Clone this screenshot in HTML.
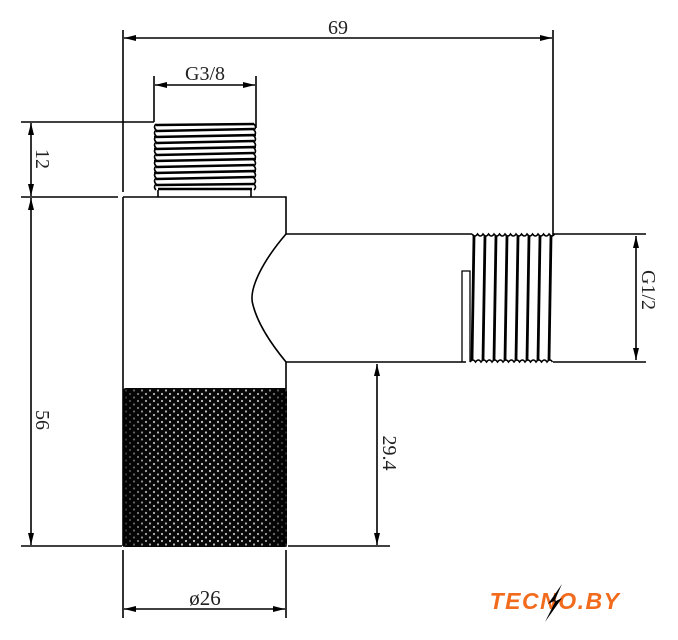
<!DOCTYPE html>
<html><head><meta charset="utf-8"><style>
html,body{margin:0;padding:0;background:#fff;width:678px;height:640px;overflow:hidden}
svg{display:block}
text{font-family:"Liberation Serif",serif;fill:#222}
</style></head><body>
<svg width="678" height="640" viewBox="0 0 678 640" xmlns="http://www.w3.org/2000/svg">
<defs>
<marker id="a" viewBox="0 0 12 6" refX="12" refY="3" markerWidth="12" markerHeight="6" orient="auto-start-reverse" markerUnits="userSpaceOnUse">
<path d="M0,0 L12,3 L0,6 Z" fill="#000"/></marker>
<pattern id="k" width="8" height="7" patternUnits="userSpaceOnUse">
<rect width="8" height="7" fill="#0a0a0a"/>
<circle cx="2" cy="2" r="1.1" fill="#fff"/>
<circle cx="6" cy="5.5" r="1.1" fill="#fff"/>
</pattern>
<linearGradient id="sh" x1="0" x2="1">
<stop offset="0" stop-color="#000" stop-opacity="0.85"/>
<stop offset="0.15" stop-color="#000" stop-opacity="0.3"/>
<stop offset="0.45" stop-color="#000" stop-opacity="0.2"/>
<stop offset="0.85" stop-color="#000" stop-opacity="0.3"/>
<stop offset="1" stop-color="#000" stop-opacity="0.85"/>
</linearGradient>
</defs>
<g stroke="#000" stroke-width="1.6" fill="none">
<line x1="123" y1="30" x2="123" y2="192"/>
<line x1="553" y1="30" x2="553" y2="236"/>
<line x1="124" y1="38" x2="552" y2="38" marker-start="url(#a)" marker-end="url(#a)"/>
<line x1="154" y1="76" x2="154" y2="122"/>
<line x1="256" y1="76" x2="256" y2="128"/>
<line x1="155" y1="85" x2="255" y2="85" marker-start="url(#a)" marker-end="url(#a)"/>
<line x1="21" y1="122" x2="154" y2="122"/>
<line x1="21" y1="197" x2="118" y2="197"/>
<line x1="31" y1="123" x2="31" y2="196" marker-start="url(#a)" marker-end="url(#a)"/>
<line x1="31" y1="198" x2="31" y2="545" marker-start="url(#a)" marker-end="url(#a)"/>
<line x1="21" y1="546" x2="122" y2="546"/>
<line x1="158" y1="190" x2="158" y2="197"/>
<line x1="251" y1="190" x2="251" y2="197"/>
</g>
<g stroke="#000" stroke-width="2.6" fill="none">
<path d="M156,125 L254,124 M156,131 L254,129 M154,137 L256,135 M156,143 L254,141 M154,149 L256,147 M156,155 L254,153 M154,161 L256,159 M156,167 L254,165 M154,173 L256,171 M156,179 L254,177 M156,185 L254,184 M158,189 L252,189"/>
<path d="M156,124 q-3,3 0,6 q-3,3 0,6 q-3,3 0,6 q-3,3 0,6 q-3,3 0,6 q-3,3 0,6 q-3,3 0,6 q-3,3 0,6 q-3,3 0,6 q-3,3 0,6 q-3,3 0,6" stroke-width="1.6"/>
<path d="M254,124 q3,3 0,6 q3,3 0,6 q3,3 0,6 q3,3 0,6 q3,3 0,6 q3,3 0,6 q3,3 0,6 q3,3 0,6 q3,3 0,6 q3,3 0,6 q3,3 0,6" stroke-width="1.6"/>
</g>
<g stroke="#000" stroke-width="1.6" fill="none">
<path d="M123,197 L286,197 L286,234"/>
<line x1="123" y1="197" x2="123" y2="546"/>
<path d="M286,362 L286,546 L123,546"/>
<path d="M286,234 C262,262 248,290 253,305 C258,325 272,345 286,362"/>
<line x1="286" y1="234" x2="472" y2="234"/>
<line x1="286" y1="362" x2="466" y2="362"/>
<line x1="553" y1="234" x2="646" y2="234"/>
<line x1="553" y1="362" x2="646" y2="362"/>
<path d="M462,362 L462,271 L470,271 L470,362" stroke-width="1.3"/>
<line x1="636" y1="236" x2="636" y2="360" marker-start="url(#a)" marker-end="url(#a)"/>
<line x1="288" y1="546" x2="390" y2="546"/>
<line x1="377" y1="364" x2="377" y2="545" marker-start="url(#a)" marker-end="url(#a)"/>
<line x1="123" y1="550" x2="123" y2="618"/>
<line x1="286" y1="550" x2="286" y2="618"/>
<line x1="124" y1="609" x2="285" y2="609" marker-start="url(#a)" marker-end="url(#a)"/>
</g>
<g stroke="#000" stroke-width="2.8" fill="none">
<path d="M474,236 L472,360 M485,236 L483,360 M496,236 L494,360 M507,236 L505,360 M518,236 L516,360 M529,236 L527,360 M540,236 L538,360 M551,236 L549,360"/>
<path d="M472,234 q3,4 5.5,0 q3,4 5.5,0 q3,4 5.5,0 q3,4 5.5,0 q3,4 5.5,0 q3,4 5.5,0 q3,4 5.5,0 q3,4 5.5,0 q3,4 5.5,0 q3,4 5.5,0 q3,4 5.5,0 q3,4 5.5,0 q3,4 5.5,0 q3,4 5.5,0 q3,4 5.5,0" stroke-width="1.6"/>
<path d="M470,362 q3,-4 5.5,0 q3,-4 5.5,0 q3,-4 5.5,0 q3,-4 5.5,0 q3,-4 5.5,0 q3,-4 5.5,0 q3,-4 5.5,0 q3,-4 5.5,0 q3,-4 5.5,0 q3,-4 5.5,0 q3,-4 5.5,0 q3,-4 5.5,0 q3,-4 5.5,0 q3,-4 5.5,0 q3,-4 5.5,0" stroke-width="1.6"/>
</g>
<rect x="123" y="388" width="164" height="159" rx="3" fill="url(#k)"/>
<rect x="123" y="388" width="164" height="159" rx="3" fill="url(#sh)"/>
<text x="338" y="34" font-size="20" text-anchor="middle">69</text>
<text x="205" y="80" font-size="20" text-anchor="middle">G3/8</text>
<text x="205" y="605" font-size="21" text-anchor="middle">ø26</text>
<text transform="translate(36,159) rotate(90)" font-size="20" text-anchor="middle">12</text>
<text transform="translate(36,420) rotate(90)" font-size="20" text-anchor="middle">56</text>
<text transform="translate(383,453) rotate(90)" font-size="20" text-anchor="middle">29.4</text>
<text transform="translate(642,290) rotate(90)" font-size="20" text-anchor="middle">G1/2</text>
<text x="555" y="609" font-size="23" font-weight="bold" font-style="italic" text-anchor="middle" style="font-family:'Liberation Sans',sans-serif;fill:#f26b1d;letter-spacing:1.5px">TECNO.BY</text>
<path d="M562,584 L548,604 L556,600 L545,622 L562,598 L554,602 Z" fill="#000"/>
</svg>
</body></html>
